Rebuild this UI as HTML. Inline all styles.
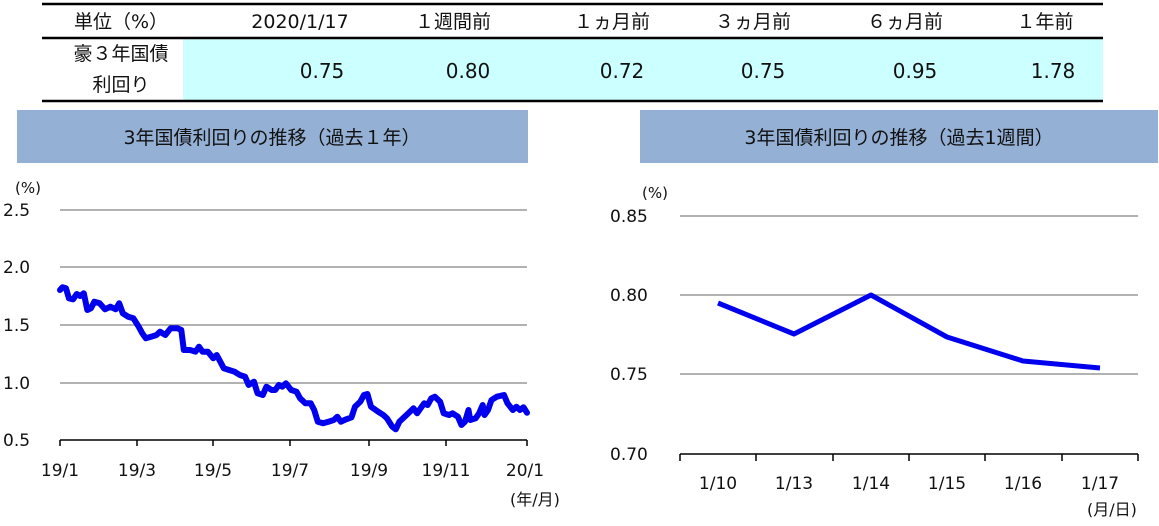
<!DOCTYPE html><html><head><meta charset="utf-8"><style>
body{margin:0;width:1159px;height:522px;background:#fff;overflow:hidden;font-family:"DejaVu Sans","Noto Sans CJK JP",sans-serif;}
</style></head><body>
<svg id="s" width="1159" height="522" xmlns="http://www.w3.org/2000/svg" font-family="DejaVu Sans, Noto Sans CJK JP, sans-serif" font-size="19" fill="#111">
<rect x="183" y="39" width="920" height="61" fill="#ccffff"/>
<line x1="42" y1="4" x2="1103" y2="4" stroke="#000" stroke-width="2.5"/>
<line x1="42" y1="38" x2="1103" y2="38" stroke="#000" stroke-width="2.5"/>
<line x1="42" y1="101" x2="1103" y2="101" stroke="#000" stroke-width="2.5"/>
<g text-anchor="middle">
<text x="121" y="28">単位（%）</text><text x="300" y="28">2020/1/17</text><text x="453" y="28">１週間前</text><text x="612" y="28">１ヵ月前</text><text x="753" y="28">３ヵ月前</text><text x="905" y="28">６ヵ月前</text><text x="1045" y="28">１年前</text>
<text x="121" y="60">豪３年国債</text><text x="121" y="91">利回り</text>
<text x="322" y="78" font-size="20">0.75</text><text x="468" y="78" font-size="20">0.80</text><text x="622" y="78" font-size="20">0.72</text><text x="763" y="78" font-size="20">0.75</text><text x="915" y="78" font-size="20">0.95</text><text x="1053" y="78" font-size="20">1.78</text>
</g>
<rect x="17" y="110" width="511" height="53" fill="#95b0d5"/>
<rect x="640" y="110" width="518" height="53" fill="#95b0d5"/>
<text x="272" y="144" text-anchor="middle">3年国債利回りの推移（過去１年）</text>
<text x="899" y="144" text-anchor="middle">3年国債利回りの推移（過去1週間）</text>
<g stroke="#999" stroke-width="1.5">
<line x1="60" y1="210" x2="527" y2="210"/><line x1="60" y1="267" x2="527" y2="267"/><line x1="60" y1="325" x2="527" y2="325"/><line x1="60" y1="383" x2="527" y2="383"/>
<line x1="680" y1="216" x2="1138" y2="216"/><line x1="680" y1="295" x2="1138" y2="295"/><line x1="680" y1="374" x2="1138" y2="374"/>
</g>
<g stroke="#000" stroke-width="1.5">
<line x1="60" y1="440" x2="527" y2="440"/><line x1="680" y1="454" x2="1138" y2="454"/>
<line x1="60" y1="440" x2="60" y2="446"/><line x1="137" y1="440" x2="137" y2="446"/><line x1="213" y1="440" x2="213" y2="446"/><line x1="290" y1="440" x2="290" y2="446"/><line x1="369" y1="440" x2="369" y2="446"/><line x1="446" y1="440" x2="446" y2="446"/><line x1="527" y1="440" x2="527" y2="446"/>
<line x1="680" y1="454" x2="680" y2="461"/><line x1="756" y1="454" x2="756" y2="461"/><line x1="833" y1="454" x2="833" y2="461"/><line x1="909" y1="454" x2="909" y2="461"/><line x1="985" y1="454" x2="985" y2="461"/><line x1="1062" y1="454" x2="1062" y2="461"/><line x1="1138" y1="454" x2="1138" y2="461"/>
</g>
<g font-size="17">
<text x="28" y="193" text-anchor="middle" font-size="15">(%)</text>
<text x="3" y="216">2.5</text><text x="3" y="273">2.0</text><text x="3" y="331">1.5</text><text x="3" y="389">1.0</text><text x="3" y="446">0.5</text>
<g text-anchor="middle"><text x="60" y="476">19/1</text><text x="137" y="476">19/3</text><text x="213" y="476">19/5</text><text x="290" y="476">19/7</text><text x="369" y="476">19/9</text><text x="446" y="476">19/11</text><text x="525" y="476">20/1</text><text x="535" y="505" font-size="16">(年/月)</text>
<text x="655" y="198" font-size="15">(%)</text>
<text x="718" y="489">1/10</text><text x="794" y="489">1/13</text><text x="871" y="489">1/14</text><text x="947" y="489">1/15</text><text x="1023" y="489">1/16</text><text x="1100" y="489">1/17</text><text x="1112" y="515" font-size="16">(月/日)</text></g>
<text x="610" y="222">0.85</text><text x="610" y="301">0.80</text><text x="610" y="380">0.75</text><text x="610" y="460">0.70</text>
</g>
<polyline points="718,303 794,334 871,295 947,337 1023,361 1100,368" fill="none" stroke="#0000ee" stroke-width="5" stroke-linejoin="round"/>
<polyline id="p" fill="none" stroke="#0000ee" stroke-width="6" stroke-linejoin="round" stroke-linecap="round"/>
</svg>
<script>
var d=[163,60,170,52,180,55,188,85,200,88,210,72,220,78,230,70,240,120,250,115,260,95,275,100,290,118,305,110,320,118,330,100,340,130,355,140,370,145,385,170,395,190,405,205,420,200,435,195,445,185,460,195,475,175,495,175,505,180,512,240,530,240,545,245,555,230,565,245,580,245,595,265,605,255,615,275,625,295,640,300,655,305,670,315,685,320,695,345,710,335,720,370,735,375,745,350,760,360,770,360,780,345,790,350,800,340,815,360,830,365,840,385,855,400,870,400,880,420,890,455,905,460,920,455,935,450,945,440,955,455,970,448,985,442,995,410,1010,395,1020,375,1030,372,1040,410,1060,425,1075,435,1085,445,1100,470,1110,478,1120,455,1135,440,1150,425,1160,415,1170,430,1180,415,1190,400,1200,405,1210,385,1220,380,1235,395,1245,430,1260,435,1270,430,1285,440,1295,465,1305,455,1315,420,1320,450,1335,445,1345,430,1355,405,1360,435,1370,420,1380,390,1395,380,1415,375,1425,400,1440,420,1450,410,1460,420,1470,412,1480,428];
var s=[];for(var i=0;i<d.length;i+=2){s.push((60+(d[i]-163)*0.3546).toFixed(1)+","+(270+d[i+1]/3).toFixed(1));}
document.getElementById("p").setAttribute("points",s.join(" "));
</script>
</body></html>
